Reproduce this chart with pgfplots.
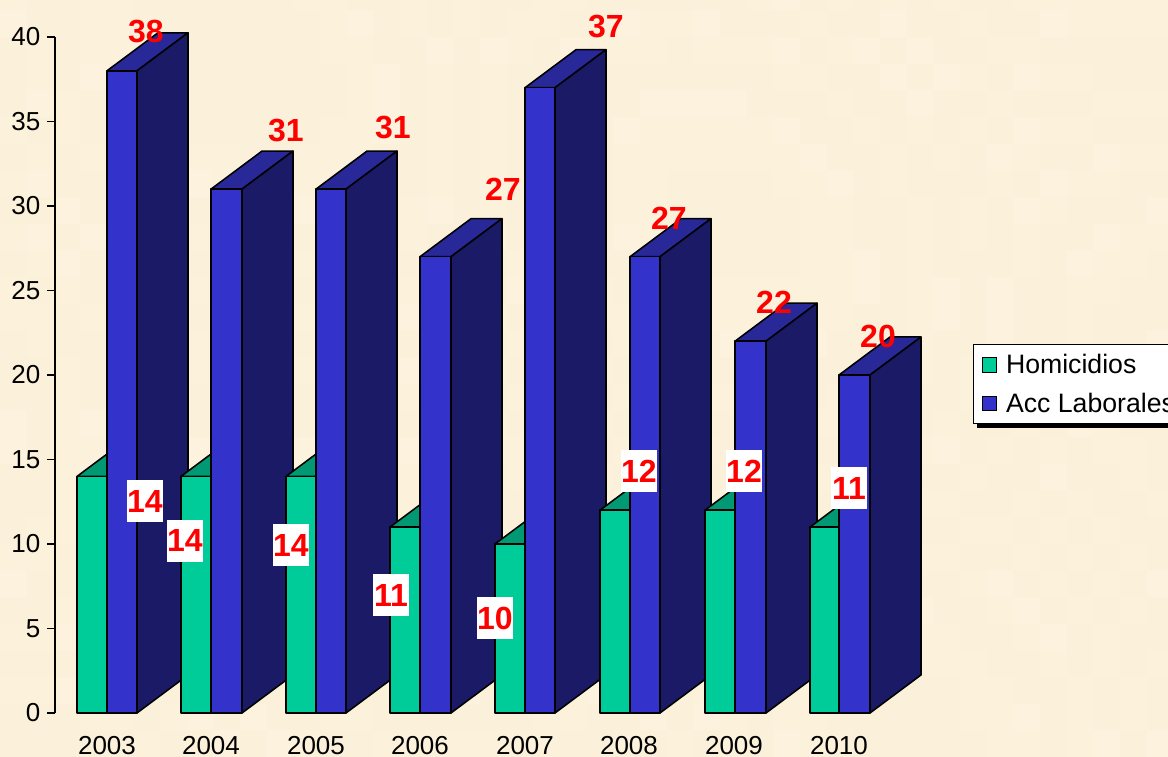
\documentclass[border=0pt]{standalone}
\usepackage{fontspec}
\setmainfont{Liberation Sans}
\usepackage{pgfplots}
\usepackage{pgfplotstable}
\pgfplotsset{compat=1.18}
\definecolor{bgA}{HTML}{FEF5E2}
\definecolor{bgB}{HTML}{F9EED3}
\definecolor{gfront}{HTML}{00CC99}
\definecolor{gtop}{HTML}{009973}
\definecolor{bfront}{HTML}{3333CC}
\definecolor{btop}{HTML}{282899}
\definecolor{bside}{HTML}{1A1A66}
\pgfplotstableread{
x y label
146 40.30 38
286 34.44 31
393 34.67 31
503 31.01 27
606 40.65 37
669 29.29 27
774 24.32 22
878 22.25 20
}\plainlabels
\pgfplotstableread{
x y label
145 12.54 14
185 10.18 14
291 9.94 14
391 6.98 11
495 5.62 10
639 14.32 12
744 14.32 12
849 13.31 11
}\boxlabels
% left, middle, right pixel position of a pair; Homicidios; Acc Laborales
\newcommand\barpair[5]{%
  \pgfmathsetmacro\xg{#2+51}\pgfmathsetmacro\xb{#3+51}\pgfmathsetmacro\xl{#1+51}%
  \pgfmathsetmacro\tg{#4+2.25}\pgfmathsetmacro\tb{#5+2.25}%
  \edef\tmp{%
  \noexpand\addplot[forget plot,draw=black,line width=1.15pt,fill=gtop,line join=round] coordinates {(#1,#4) (#2,#4) (\xg,\tg) (\xl,\tg)} --cycle;
  \noexpand\addplot[forget plot,draw=black,line width=1.15pt,fill=gfront,line join=round] coordinates {(#1,0) (#2,0) (#2,#4) (#1,#4)} --cycle;
  \noexpand\addplot[forget plot,draw=black,line width=1.15pt,fill=btop,line join=round] coordinates {(#2,#5) (#3,#5) (\xb,\tb) (\xg,\tb)} --cycle;
  \noexpand\addplot[forget plot,draw=black,line width=1.15pt,fill=bside,line join=round] coordinates {(#3,0) (\xb,2.25) (\xb,\tb) (#3,#5)} --cycle;
  \noexpand\addplot[forget plot,draw=black,line width=1.15pt,fill=bfront,line join=round] coordinates {(#2,0) (#3,0) (#3,#5) (#2,#5)} --cycle;
  }\tmp}
\begin{document}
\begin{tikzpicture}
\path[use as bounding box] (-41.25pt,-33pt) rectangle (834.75pt,534.75pt);
\fill[bgA!60!bgB] (-41.25pt,-33pt) rectangle (834.75pt,534.75pt);
% faint mottled paper texture
\begin{scope}
\clip (-41.25pt,-33pt) rectangle (834.75pt,534.75pt);
\foreach \i in {0,...,43}{\foreach \j in {0,...,28}{%
  \pgfmathtruncatemacro\v{mod(\i*\i*3+\j*31+\i*\j*2+\j*\j*3,101)}%
  \pgfmathsetlengthmacro\px{-41.25pt+\i*20pt}%
  \pgfmathsetlengthmacro\py{-33pt+\j*20pt}%
  \fill[bgA!\v!bgB,opacity=0.22] (\px,\py) rectangle ++(20pt,20pt);
}}
\end{scope}
\begin{axis}[
  scale only axis, width=834.75pt, height=507pt,
  xmin=55, xmax=1168, ymin=0, ymax=40, clip=false,
  axis y line=left, axis x line*=bottom,
  axis line style={-,black,line width=1pt},
  x axis line style={draw=none},
  ytick={0,5,...,40},
  xtick={107,211,316,420,525,629,734,839},
  xticklabels={2003,2004,2005,2006,2007,2008,2009,2010},
  tick align=outside, major tick length=6pt,
  tick style={black,line width=0.9pt},
  xtick style={draw=none},
  /pgf/number format/assume math mode=true,
  tick label style={font=\fontsize{19.5}{21}\selectfont,text=black},
  xticklabel style={yshift=-7.75pt},
  yticklabel style={xshift=-1.5pt},
  legend style={at={(0.8248,0.5459)},anchor=north west,draw=black,line width=0.9pt,fill=white,
    font=\fontsize{20}{22}\selectfont,
    cells={anchor=west},inner xsep=6pt,inner ysep=5.25pt,row sep=9pt},
  legend image code/.code={\draw[draw=black,line width=0.8pt,#1] (-2.25pt,-5.5pt) rectangle (8.75pt,5.5pt);},
]
\barpair{77}{107}{137}{14}{38}
\barpair{181}{211}{242}{14}{31}
\barpair{286}{316}{346}{14}{31}
\barpair{390}{420}{451}{11}{27}
\barpair{495}{525}{555}{10}{37}
\barpair{600}{630}{660}{12}{27}
\barpair{705}{735}{766}{12}{22}
\barpair{810}{839}{870}{11}{20}
\addlegendimage{fill=gfront}\addlegendentry{\hspace{4.5pt}Homicidios}
\addlegendimage{fill=bfront}\addlegendentry{\hspace{4.5pt}Acc Laborales\hspace{40pt}}
\addplot[forget plot,only marks,mark=none,point meta=explicit symbolic,nodes near coords={\pgfplotspointmeta},
  every node near coord/.append style={anchor=center,inner sep=0pt,text=red,font=\fontsize{24}{26}\bfseries\selectfont}]
  table[x=x,y=y,meta=label] {\plainlabels};
\addplot[forget plot,only marks,mark=none,point meta=explicit symbolic,nodes near coords={\pgfplotspointmeta},
  every node near coord/.append style={anchor=center,inner sep=0pt,fill=white,minimum width=27pt,minimum height=31.5pt,text=red,font=\fontsize{24}{26}\bfseries\selectfont}]
  table[x=x,y=y,meta=label] {\boxlabels};
\fill[black] (axis cs:977,16.85) rectangle (axis cs:1168,21);
\end{axis}
\end{tikzpicture}
\end{document}
